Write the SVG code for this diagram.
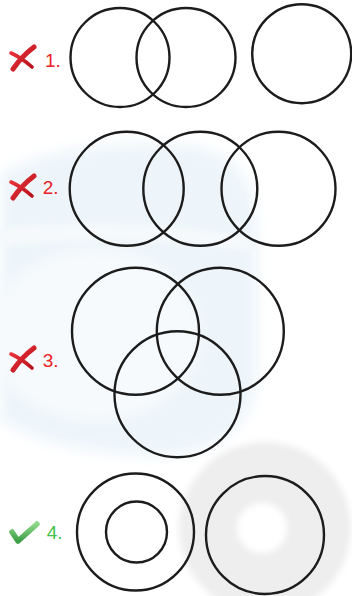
<svg xmlns="http://www.w3.org/2000/svg" width="352" height="596" viewBox="0 0 352 596">
  <defs>
    <filter id="soft" x="-20%" y="-20%" width="140%" height="140%">
      <feGaussianBlur stdDeviation="7"/>
    </filter>
    <filter id="soft2" x="-20%" y="-20%" width="140%" height="140%">
      <feGaussianBlur stdDeviation="3"/>
    </filter>
    <linearGradient id="redg" x1="0" y1="0" x2="1" y2="1">
      <stop offset="0" stop-color="#e8323a"/>
      <stop offset="1" stop-color="#b8121c"/>
    </linearGradient>
    <linearGradient id="greeng" x1="0" y1="0" x2="0" y2="1">
      <stop offset="0" stop-color="#8fd88a"/>
      <stop offset="1" stop-color="#3d9f45"/>
    </linearGradient>
  </defs>
  <style>
    .c { fill: none; stroke: #1c1c1c; stroke-width: 2.4; }
    .lbl { font-family: "Liberation Sans", Arial, sans-serif; font-size: 19px; }
    .bad { fill: #ec2027; }
    .good { fill: #3fc24c; }
    .xm { fill: none; stroke: url(#redg); stroke-linecap: round; }
  </style>
  <rect width="352" height="596" fill="#ffffff"/>

  <!-- faint watermark background -->
  <g id="watermark">
    <path d="M0 175 Q50 142 170 143 Q257 146 257 230 L257 380 Q250 455 150 456 Q50 452 0 420 Z" fill="#edf5fa" filter="url(#soft)"/>
    <ellipse cx="95" cy="335" rx="105" ry="85" fill="#f7fafc" filter="url(#soft)"/>
    <path d="M0 230 Q120 215 250 238 L250 250 Q120 232 0 246 Z" fill="#f6f9fb" filter="url(#soft2)"/>
    <circle cx="265" cy="528" r="86" fill="#eeeeee" filter="url(#soft2)"/>
    <circle cx="262" cy="528" r="25" fill="#ffffff" filter="url(#soft2)"/>
  </g>

  <g id="option1">
    <path class="xm" d="M34 47 Q22 56 13 69" stroke-width="5"/>
    <path class="xm" d="M11 53 Q22 58 32 67" stroke-width="3.6"/>
    <text class="lbl bad" x="45" y="66.7">1.</text>
    <circle class="c" cx="120" cy="57.5" r="49.5"/>
    <circle class="c" cx="186" cy="57.5" r="49.5"/>
    <circle class="c" cx="301.7" cy="53.7" r="49.5"/>
  </g>

  <g id="option2">
    <path class="xm" d="M34 176 Q22 185 13 198" stroke-width="5"/>
    <path class="xm" d="M11 182 Q22 187 32 196" stroke-width="3.6"/>
    <text class="lbl bad" x="42.7" y="194">2.</text>
    <circle class="c" cx="126.7" cy="188.8" r="57"/>
    <circle class="c" cx="200.3" cy="188.8" r="57"/>
    <circle class="c" cx="278.5" cy="188.8" r="57"/>
  </g>

  <g id="option3">
    <path class="xm" d="M34 348 Q22 357 13 370" stroke-width="5"/>
    <path class="xm" d="M11 354 Q22 359 32 368" stroke-width="3.6"/>
    <text class="lbl bad" x="42.7" y="367.3">3.</text>
    <circle class="c" cx="135.5" cy="331.3" r="63.5"/>
    <circle class="c" cx="220.3" cy="331.3" r="63.5"/>
    <circle class="c" cx="177.5" cy="394.2" r="63"/>
  </g>

  <g id="option4">
    <path d="M12 532 L18 541 L37 524" fill="none" stroke="url(#greeng)" stroke-width="5.5" stroke-linecap="round" stroke-linejoin="round"/>
    <text class="lbl good" x="46.7" y="538.5">4.</text>
    <circle class="c" cx="135.5" cy="532" r="58.5"/>
    <circle class="c" cx="136.5" cy="532" r="30.5"/>
    <circle class="c" cx="265" cy="535" r="59"/>
  </g>
</svg>
